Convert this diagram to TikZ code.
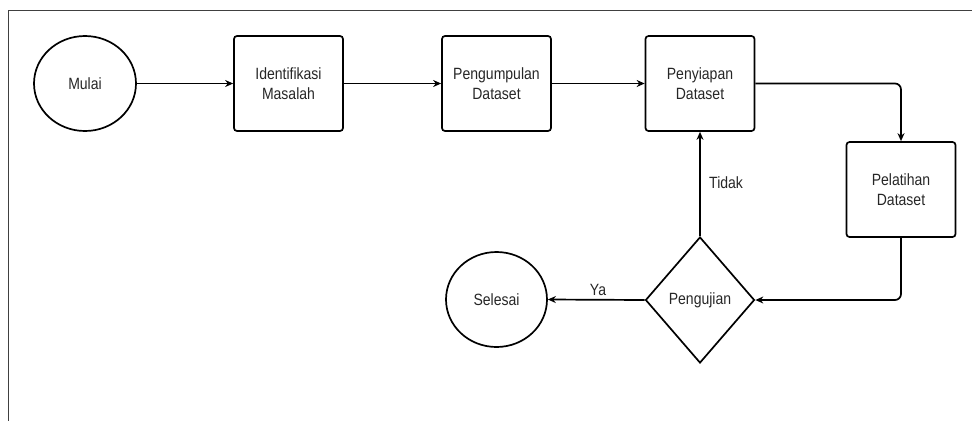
\documentclass[tikz,border=0pt]{standalone}
\usepackage{fontspec}
\setmainfont{Liberation Sans}[FakeStretch=0.86]
\usetikzlibrary{shapes.geometric,arrows.meta}
\begin{document}
\begin{tikzpicture}[x=1pt,y=-1pt,
  txt/.style={font=\fontsize{16.3}{19.5}\selectfont, text=black!85, align=center},
  proc/.style={txt, draw, line width=1.7pt, rounded corners=3pt, minimum width=109pt, minimum height=95pt, inner sep=0pt},
  term/.style={txt, ellipse, draw, line width=1.7pt, minimum width=102pt, minimum height=95pt, inner sep=0pt},
  dec/.style={txt, diamond, draw, line width=1.7pt, minimum width=109pt, minimum height=126pt, inner sep=0pt},
  conn/.style={line width=1.7pt, -{Stealth[length=8pt,width=7pt]}},
  lbl/.style={txt, inner sep=0pt}
]
\useasboundingbox (0,0) rectangle (972,421);
% frame (top and left edges)
\coordinate (ftr) at (972,10.5);
\coordinate (ftl) at (8.5,10.5);
\coordinate (fbl) at (8.5,421);
\draw[line width=1.9pt, black!75] (ftr) -- (ftl) -- (fbl);

\node[term] (mulai) at (85,83.5) {Mulai};
\node[proc] (ident) at (288.5,83.5) {Identifikasi\\Masalah};
\node[proc] (kumpul) at (496.5,83.5) {Pengumpulan\\Dataset};
\node[proc] (siap) at (700,83.5) {Penyiapan\\Dataset};
\node[proc] (latih) at (901,189.5) {Pelatihan\\Dataset};
\node[dec] (uji) at (700,300) {Pengujian};
\node[term, minimum width=101pt] (selesai) at (496.5,299.5) {Selesai};

\draw[conn] (mulai.east) -- (ident.west);
\draw[conn] (ident.east) -- (kumpul.west);
\draw[conn] (kumpul.east) -- (siap.west);
\draw[conn, rounded corners=6pt] (siap.east) -| (latih.north);
\draw[conn, rounded corners=6pt] (latih.south) |- (uji.east);
\draw[conn] (uji.north) -- (siap.south);
\draw[conn] (uji.west) -- (selesai.east);

\node[lbl, anchor=west] (tidak) at (709,183) {Tidak};
\node[lbl] (ya) at (598,290) {Ya};
\end{tikzpicture}
\end{document}
